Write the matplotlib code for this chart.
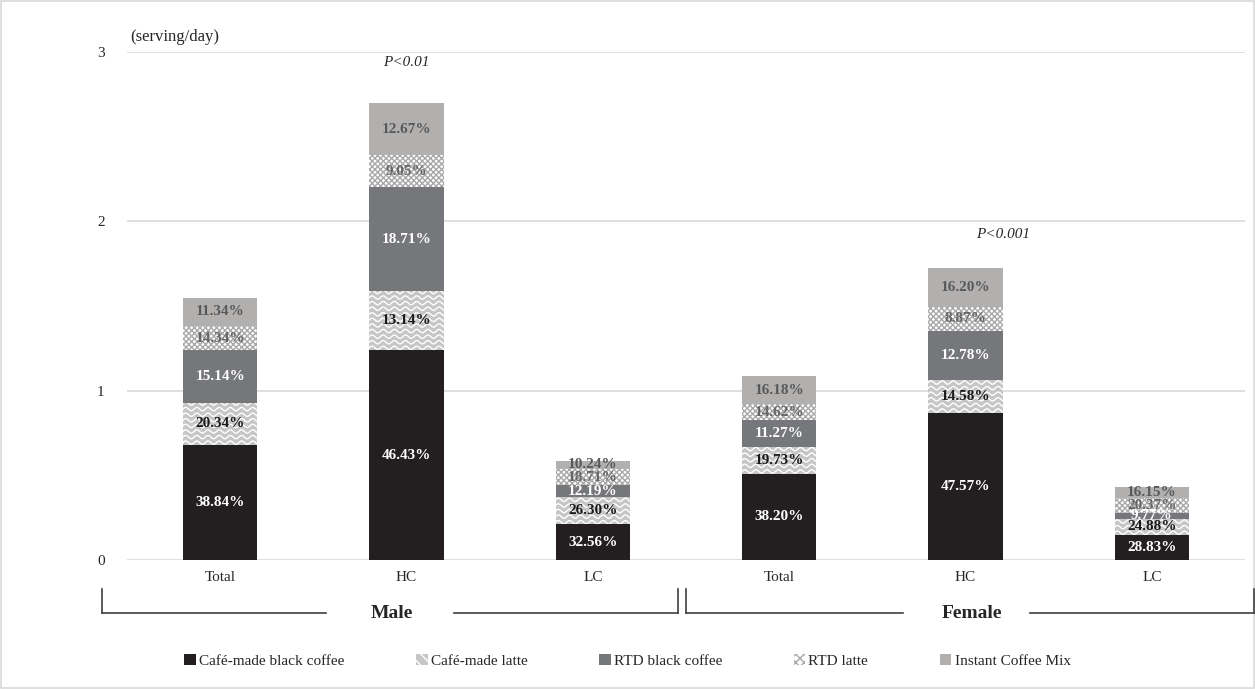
import numpy as np
import matplotlib
matplotlib.use("Agg")
import matplotlib.pyplot as plt
from matplotlib.patches import Patch, Rectangle
from matplotlib.lines import Line2D

plt.rcParams['font.family'] = ['Liberation Serif', 'DejaVu Serif']
plt.rcParams['hatch.linewidth'] = 1.0

# bars: Male Total/HC/LC, Female Total/HC/LC (serving/day)
x_labels = ['Total', 'HC', 'LC', 'Total', 'HC', 'LC']
cafe_black = [0.68, 1.24, 0.21, 0.51, 0.87, 0.148]
cafe_latte = [0.25, 0.35, 0.16, 0.16, 0.195, 0.094]
rtd_black = [0.31, 0.61, 0.07, 0.155, 0.29, 0.036]
rtd_latte = [0.14, 0.19, 0.10, 0.095, 0.14, 0.088]
instant_mix = [0.17, 0.31, 0.045, 0.165, 0.23, 0.064]

pct_cafe_black = ['38.84%', '46.43%', '32.56%', '38.20%', '47.57%', '28.83%']
pct_cafe_latte = ['20.34%', '13.14%', '26.30%', '19.73%', '14.58%', '24.88%']
pct_rtd_black = ['15.14%', '18.71%', '12.19%', '11.27%', '12.78%', '9.77%']
pct_rtd_latte = ['14.34%', '9.05%', '18.71%', '14.62%', '8.87%', '20.37%']
pct_instant = ['11.34%', '12.67%', '10.24%', '16.18%', '16.20%', '16.15%']

series_names = ['Café-made black coffee', 'Café-made latte', 'RTD black coffee',
                'RTD latte', 'Instant Coffee Mix']

fig = plt.figure(figsize=(12.55, 6.89), dpi=100)
ax = fig.add_axes([127 / 1255, 129 / 689, 1118 / 1255, 508 / 689])
fig.patches.append(Rectangle((0.001, 0.001), 0.998, 0.997, transform=fig.transFigure,
                             fill=False, edgecolor='#d9d9d9', linewidth=1.2))

x = np.arange(len(x_labels))
w = 0.40
series = [cafe_black, cafe_latte, rtd_black, rtd_latte, instant_mix]
labels = [pct_cafe_black, pct_cafe_latte, pct_rtd_black, pct_rtd_latte, pct_instant]
styles = [
    dict(color='#231f20', hatch=None, txt='white'),
    dict(color='#c6c6c6', hatch=None, txt='#1a1a1a'),
    dict(color='#76777b', hatch=None, txt='white'),
    dict(color='white', hatch='xxxxxx', txt='#666666'),
    dict(color='#b2afaf', hatch=None, txt='#595959'),
]

bottom = np.zeros(len(x))
for k, (vals, labs, st) in enumerate(zip(series, labels, styles)):
    vals = np.array(vals)
    bars = ax.bar(x, vals, w, bottom=bottom, color=st['color'], linewidth=0,
                  hatch=st['hatch'], edgecolor='#a8a8a8' if st['hatch'] else 'none', zorder=2)
    if k == 1:
        # white wavy pattern for café-made latte
        for b in bars:
            x0, y0 = b.get_x(), b.get_y()
            xs = np.linspace(x0, x0 + b.get_width(), 200)
            yy = y0 - 0.02
            while yy < y0 + b.get_height() + 0.02:
                ln, = ax.plot(xs, yy + 0.010 * np.sin((xs - x0) * 2 * np.pi / 0.06),
                              color='white', lw=1.0, zorder=3)
                ln.set_clip_box(None)
                ln.set_clip_path(b.get_path(), b.get_transform())
                yy += 0.033
    for xi, b0, v, lab in zip(x, bottom, vals, labs):
        ax.text(xi, b0 + v / 2, lab, ha='center', va='center', color=st['txt'],
                fontsize=11, fontweight='bold', zorder=4)
    bottom += vals

ax.set_xlim(-0.5, 5.5)
ax.set_ylim(0, 3)
ax.set_yticks([0, 1, 2, 3])
ax.yaxis.grid(True, color='#d9d9d9', linewidth=1.2, zorder=0)
ax.set_axisbelow(True)
for s in ax.spines.values():
    s.set_visible(False)
ax.tick_params(axis='both', length=0, labelsize=11, colors='#262626')
ax.tick_params(axis='y', pad=16)
ax.set_xticks(x)
ax.set_xticklabels(x_labels)
ax.tick_params(axis='x', pad=8)

ax.text(0.003, 1.03, '(serving/day)', transform=ax.transAxes, fontsize=12,
        color='#262626', va='center', ha='left')
ax.text(1, 2.94, 'P<0.01', ha='center', va='center', style='italic', fontsize=11, color='#262626')
ax.text(4.2, 1.92, 'P<0.001', ha='center', va='center', style='italic', fontsize=11, color='#262626')

# group brackets
def px(xp, yp):
    return xp / 1255, 1 - yp / 689

def bracket(x_left, x_right, gap_l, gap_r, name, xc):
    lc = '#404040'
    for xa, xb in [(x_left, gap_l), (gap_r, x_right)]:
        fig.add_artist(Line2D([px(xa, 0)[0], px(xb, 0)[0]], [px(0, 613)[1]] * 2,
                              color=lc, lw=1.2))
    for xv in (x_left, x_right):
        fig.add_artist(Line2D([px(xv, 0)[0]] * 2, [px(0, 589)[1], px(0, 613)[1]],
                              color=lc, lw=1.2))
    fig.text(px(xc, 0)[0], px(0, 613)[1], name, ha='center', va='center',
             fontsize=14, fontweight='bold', color='#262626')

bracket(102, 678, 326, 454, 'Male', 392)
bracket(686, 1254, 903, 1030, 'Female', 972)

handles = [
    Patch(facecolor='#231f20', edgecolor='none'),
    Patch(facecolor='#c6c6c6', edgecolor='white', hatch='\\\\\\', linewidth=0),
    Patch(facecolor='#76777b', edgecolor='none'),
    Patch(facecolor='white', edgecolor='#a8a8a8', hatch='xxxx', linewidth=0),
    Patch(facecolor='#b2afaf', edgecolor='none'),
]
fig.legend(handles, series_names, loc='center', bbox_to_anchor=(0.5, 1 - 661 / 689),
           ncol=5, frameon=False, fontsize=11, handlelength=0.75, handleheight=0.75,
           handletextpad=0.2, columnspacing=4.7, labelcolor='#262626')

fig.savefig('out.png', dpi=100)
